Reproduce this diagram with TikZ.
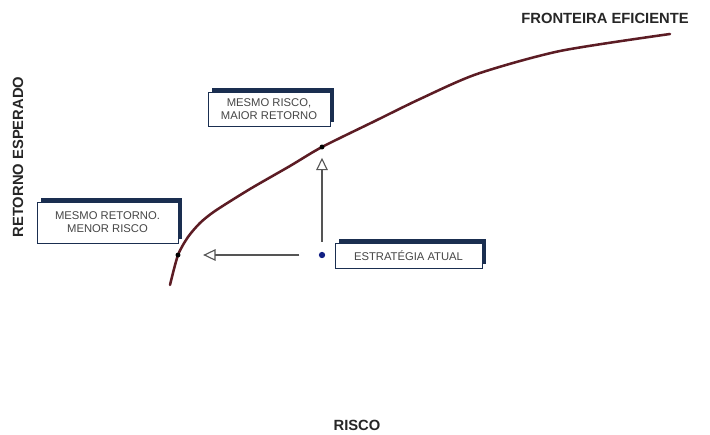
\documentclass[tikz,border=0pt]{standalone}
\usepackage{fontspec}
\setmainfont{Liberation Sans}
\usepackage{tikz}
\usetikzlibrary{
  arrows.meta,
  shadows
}
\definecolor{vinho}{RGB}{92,28,36}
\definecolor{marinho}{RGB}{26,46,80}
\definecolor{textocx}{RGB}{70,70,70}
\definecolor{setacinza}{RGB}{85,85,85}

\tikzset{
  caixa/.style={draw=marinho, line width=0.5pt, fill=white, align=center, inner sep=0pt,
    font=\fontsize{8}{9.3}\selectfont, text=textocx,
    general shadow={fill=marinho, shadow xshift=0.09cm, shadow yshift=0.09cm}},
  eixo/.style={font=\bfseries\fontsize{10.5}{12}\selectfont, text=black!85},
  ponto/.style={circle, fill=black, inner sep=0pt, minimum size=3.5pt},
  seta/.style={draw=setacinza, line width=0.8pt,
    -{Triangle[open, length=0.31cm, width=0.29cm, line width=0.8pt]}}
}

\begin{document}
\begin{tikzpicture}[x=0.025cm, y=-0.025cm]
    \useasboundingbox (0,0) rectangle (710,434);

    % Eixos
    \node[eixo] (fronteira) at (605,18) {FRONTEIRA EFICIENTE};
    \node[eixo, rotate=90] (retorno) at (18,157) {RETORNO ESPERADO};
    \node[eixo] (risco) at (357,425) {RISCO};

    % Curva da fronteira
    \draw[vinho, line width=1.8pt, line cap=round] plot[smooth, tension=0.45] coordinates {
      (170,285) (178,255) (188,237) (200,223) (215,211) (250,189) (290,166) (322,147)
      (375,121) (420,99) (477,74) (560,51) (670,34)};

    % Pontos
    \node[ponto] (menorrisco) at (178,255) {};
    \node[ponto] (maiorretorno) at (322,147) {};
    \node[ponto, fill=marinho!70!blue, minimum size=4.5pt] (atual) at (322,255) {};

    % Setas
    \draw[seta, shorten <=0.25cm, shorten >=0.2cm] (atual) -- (maiorretorno);
    \draw[seta, shorten <=0.48cm, shorten >=0.56cm] (atual) -- (menorrisco);

    % Caixas
    \node[caixa, minimum width=3.05cm, minimum height=0.85cm] (cxrisco) at (269,109) {MESMO RISCO,\\MAIOR RETORNO};
    \node[caixa, minimum width=3.525cm, minimum height=1.025cm] (cxretorno) at (107.5,222.5) {MESMO RETORNO.\\MENOR RISCO};
    \node[caixa, minimum width=3.675cm, minimum height=0.625cm] (cxatual) at (408.5,255.5) {ESTRATÉGIA ATUAL};
\end{tikzpicture}
\end{document}
